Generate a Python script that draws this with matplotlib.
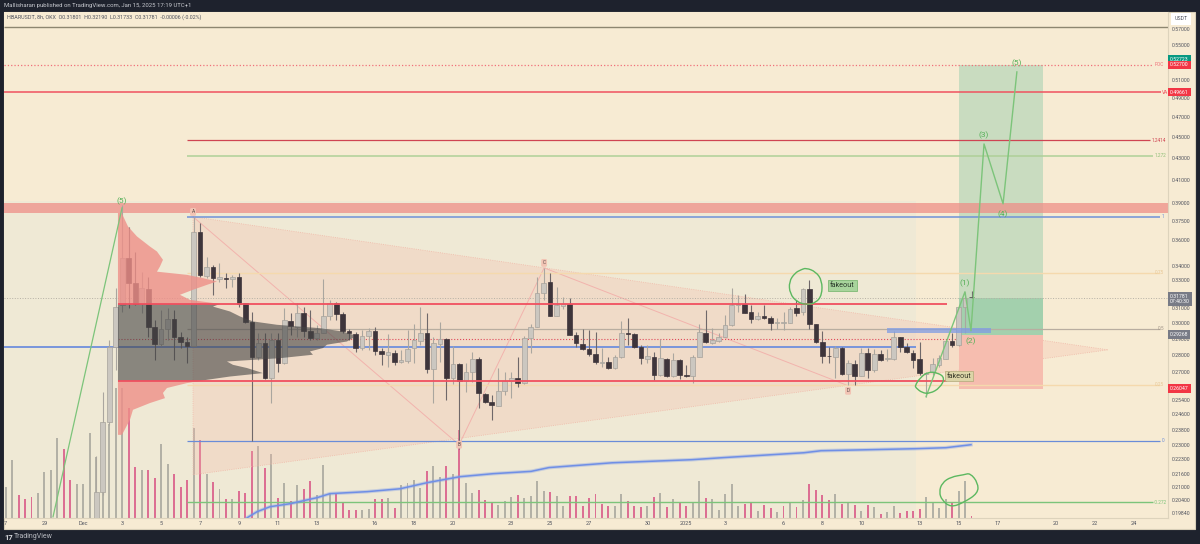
import matplotlib
matplotlib.use("Agg")
import matplotlib.pyplot as plt
from matplotlib.patches import PathPatch, Rectangle
from matplotlib.path import Path
from matplotlib.ticker import FixedLocator, NullLocator
import numpy as np

# days are counted from Dec 1, price is on a log scale
opens = [.19, .2079, .2421, .2851, .3124, .3461, .3278, .3130, .3235, .2978, .2870, .2965, .3031, .2914, .2882, .2857, .3663, .3328, .3393, .3306,
         .3314, .3306, .3321, .3137, .3011, .2789, .2876, .2664, .2895, .2753, .3017, .2978, .3070, .2952, .2908, .2939, .3050, .3137, .3063, .2952,
         .2933, .2845, .2920, .2952, .2826, .2802, .2814, .2759, .2765, .2845, .2889, .2939, .2718, .2870, .2901, .2664, .2747, .2647, .2700, .2777,
         .2574, .2529, .2507, .2591, .2647, .2664, .2636, .2908, .2978, .3207, .3285, .3050, .3117, .3130, .2927, .2870, .2838, .2808, .2753, .2759,
         .2724, .2789, .2939, .2933, .2851, .2777, .2789, .2682, .2777, .2676, .2771, .2682, .2676, .2789, .2939, .2876, .2889, .2914, .2991, .3124,
         .3130, .3077, .3031, .3050, .3037, .3004, .3004, .3004, .3103, .3077, .3235, .2998, .2882, .2797, .2789, .2845, .2688, .2747, .2676, .2814,
         .2712, .2808, .2777, .2777, .2914, .2851, .2814, .2777, .2688, .2700, .2741, .2777, .2889, .2864, .3110, .31801]
highs = [.2249, .2585, .2895, .3242, .388, .3703, .3507, .3357, .3321, .3024, .3090, .3103, .3090, .2945, .2914, .3785, .3736, .3469, .3408, .3423,
         .3349, .3335, .3349, .3137, .3077, .2939, .2939, .2939, .2939, .3103, .3070, .3137, .3110, .3090, .2991, .3306, .3158, .3144, .3077, .2965,
         .2945, .2958, .2971, .2978, .2845, .2933, .2832, .2832, .2958, .2998, .3110, .3070, .2914, .3011, .2908, .2857, .2753, .2753, .2820, .2789,
         .2579, .2568, .2724, .2700, .2700, .2789, .2920, .2998, .3321, .3386, .3349, .3249, .3179, .3172, .2945, .2965, .2958, .2945, .2845, .2789,
         .2802, .3017, .3037, .2939, .2864, .2864, .2820, .2901, .2783, .2814, .2777, .2741, .2802, .2998, .3090, .2971, .2939, .3057, .3242, .3193,
         .3200, .3124, .3077, .3124, .3050, .3037, .3077, .3110, .3158, .3242, .3299, .2998, .2952, .2851, .2857, .2851, .2771, .2771, .2845, .2845,
         .2838, .2832, .2838, .2952, .2914, .2876, .2832, .2882, .2700, .2783, .2802, .2895, .2939, .3124, .3214, .3219]
lows = [.188, .2065, .2405, .2712, .3077, .3103, .3124, .3070, .2914, .2771, .2857, .2895, .2771, .2845, .2753, .2857, .3321, .3314, .3193, .3285,
        .3242, .3249, .3110, .3004, .2323, .2771, .2658, .2524, .2700, .2747, .2927, .2914, .2914, .2895, .2895, .2939, .3024, .3024, .2939, .2895,
        .2820, .2832, .2832, .2802, .2741, .2730, .2741, .2753, .2753, .2753, .2864, .2694, .2524, .2759, .2540, .2630, .2283, .2585, .2641, .2496,
        .2524, .2432, .2507, .2568, .2551, .2613, .2630, .2814, .2978, .3158, .3050, .3050, .3097, .2927, .2851, .2832, .2795, .2747, .2730, .2718,
        .2718, .2783, .2864, .2845, .2747, .2753, .2653, .2676, .2670, .2670, .2658, .2670, .2636, .2789, .2876, .2870, .2882, .2914, .2985, .3077,
        .3070, .3004, .3024, .3031, .2958, .2965, .2958, .3004, .3050, .3057, .2965, .2876, .2753, .2753, .2664, .2682, .2624, .2624, .2676, .2664,
        .2700, .2765, .2765, .2771, .2820, .2814, .2724, .2682, .2557, .2682, .2730, .2777, .2851, .2857, .2939, .31733]
closes = [.2079, .2421, .2851, .3110, .3461, .3278, .3130, .3242, .2978, .2870, .2965, .3031, .2914, .2882, .2857, .3663, .3335, .3393, .3314, .3321,
          .3306, .3321, .3130, .3011, .2789, .2876, .2664, .2895, .2753, .3024, .2985, .3070, .2952, .2908, .2939, .3050, .3137, .3063, .2952, .2939,
          .2845, .2920, .2952, .2826, .2808, .2820, .2759, .2771, .2838, .2895, .2939, .2718, .2876, .2901, .2664, .2747, .2647, .2700, .2777, .2579,
          .2529, .2513, .2591, .2647, .2664, .2636, .2908, .2978, .3207, .3278, .3050, .3124, .3130, .2927, .2876, .2838, .2808, .2759, .2759, .2724,
          .2789, .2939, .2933, .2851, .2783, .2795, .2682, .2783, .2676, .2771, .2682, .2676, .2789, .2945, .2882, .2895, .2914, .2991, .3124, .3130,
          .3070, .3031, .3050, .3037, .3004, .3011, .3011, .3097, .3070, .3235, .2998, .2882, .2795, .2795, .2845, .2688, .2753, .2676, .2814, .2712,
          .2808, .2771, .2783, .2914, .2851, .2820, .2771, .2694, .2694, .2747, .2783, .2889, .2864, .3110, .3172, .31781]

volumes = [31, 58, 23, 19, 21, 25, 46, 48, 80, 69, 38, 34, 34, 85, 61, 70, 94, 130, 130, 110,
           51, 48, 48, 40, 74, 54, 44, 31, 38, 90, 78, 44, 36, 29, 19, 19, 27, 25, 67, 72,
           50, 64, 20, 35, 17, 33, 29, 37, 23, 53, 24, 24, 15, 8, 8, 8, 9, 19, 19, 20,
           10, 33, 35, 38, 30, 47, 52, 41, 52, 44, 88, 35, 25, 28, 18, 16, 13,
           17, 21, 23, 20, 22, 37, 27, 26, 22, 12, 22, 22, 12, 20, 24, 14, 12, 12, 24, 17,
           12, 11, 12, 21, 25, 11, 19, 15, 12, 15, 37, 20, 19, 8, 24, 34, 12, 14, 15, 7,
           13, 10, 6, 12, 16, 11, 18, 34, 28, 23, 18, 24, 14, 15, 13, 7, 13, 11, 4, 6,
           12, 5, 7, 7, 9, 21, 15, 10, 19, 15, 27, 37, 2]
# g = up volume, p = down volume
vol_sides = ("ggpppggggpp" "gggggggg" "pp" "g" "pp" "gg" "ppp" "g" "p" "g" "p" "g" "p" "g" "ppp" "g" "p" "g" "p" "g" "p" "g"
             "pp" "ggg" "pppp" "gg" "pp" "g" "p" "gggg" "p" "gg" "p" "g" "p" "gg" "ppp" "g"
             "gg" "p" "gggg" "p" "gg" "ppppppp" "gg" "ppp" "g" "p" "g" "p" "g" "pp" "gg" "p" "ggggg" "pp" "g" "pp" "g" "p" "g" "p"
             "g" "pppp" "g" "p" "g" "p" "g" "p" "g" "p" "gg" "pppp" "gggg" "p" "gg" "p")

ma_days = [8.42, 8.93, 9.6, 10.63, 12.02, 12.68, 14.59, 16.28, 17.67, 19.37, 21.06, 23.02, 23.94, 27.18, 31.29, 32.89, 37.05, 37.93, 42.76, 44.35, 45.64]
ma_prices = [.1964, .1990, .2012, .2025, .2052, .2070, .2079, .2092, .2120, .2148, .2162, .2173, .2191, .2214, .2229, .2239, .2263, .2273, .2283, .2288, .2303]

profile_prices = np.array([.3816, .3706, .3626, .3547, .3509, .3446, .3396, .3358, .3335, .3311, .3287, .3263, .3228, .3193, .3158, .3130,
                           .3112, .3079, .3046, .3013, .2991, .2969, .2947, .2927, .2906, .2884, .2864, .2843, .2822, .2802, .2781, .2761,
                           .2741, .2722, .2692, .2672, .2653, .2644, .2634, .2606, .2578, .2549, .2522, .2485, .2432, .2353])
profile_vol = np.array([3.7, 10, 19, 32, 39, 45, 42, 39, 69, 85, 99, 89, 75, 62, 72, 102,
                        95, 112, 122, 135, 159, 202, 225, 235, 235, 229, 209, 205, 192, 195, 162, 109,
                        115, 129, 145, 112, 89, 80, 69, 49, 45, 47, 32, 15, 12, 4])

wave_days = [43.33, 45.33, 45.64, 46.31, 47.29, 48.0]
wave_prices = [.2557, .3214, .2952, .4436, .3893, .5190]
wave_names = ["(1)", "(2)", "(3)", "(4)", "(5)"]
wave_name_days = [45.33, 45.64, 46.31, 47.29, 48.0]
wave_name_prices = [.3278, .2889, .4525, .3810, .5293]

triangle_days = [5.64, 52.69, 5.64]
triangle_prices = [.3785, .2832, .2157]
abcd_days = [5.64, 19.32, 23.69, 39.32]
abcd_prices = [.3785, .2303, .3386, .2619]
abcd_names = ["A", "B", "C", "D"]
abcd_name_prices = [.3825, .2303, .3423, .2590]

# freehand circles
circle1_days = [36.9, 36.59, 36.28, 36.33, 36.69, 37.16, 37.67, 37.98, 37.98, 37.67, 37.16]
circle1_prices = [.3372, .3349, .3285, .3200, .3144, .3124, .3137, .3193, .3292, .3357, .3386]
circle2_days = [45.6, 46.0, 46.0, 45.28, 44.61, 44.15, 44.0, 44.15, 44.61, 45.28]
circle2_prices = [.2165, .2119, .2072, .2031, .2009, .2040, .2077, .2119, .2147, .2157]
circle3_days = [42.76, 43.02, 43.43, 43.94, 44.3, 44.05, 43.53, 43.12, 42.81]
circle3_prices = [.2619, .2664, .2700, .2694, .2664, .2607, .2574, .2579, .2607]

tick_days = [-4, -2, 0, 2, 4, 6, 8, 10, 12, 15, 17, 19, 22, 24, 26, 29, 31, 33, 36, 38, 40, 43, 45, 47, 50, 52, 54]
tick_names = ["7", "29", "Dec", "3", "5", "7", "9", "11", "13", "16", "18", "20", "23", "25", "27", "30", "2025", "3", "6", "8", "10", "13", "15", "17", "20", "22", "24"]
price_ticks = [.57, .55, .51, .49, .47, .45, .43, .41, .39, .375, .36, .34, .33, .31, .30, .29, .28, .27, .254, .246, .238, .23, .223, .216, .21, .204, .1984]

W, H = 1200, 544
BG = "#f7ebd3"
DARK = "#1e222d"
GREEN = "#7cc47a"
plt.rcParams["font.family"] = ["Roboto", "DejaVu Sans"]


def freehand(ax, xs, ys):
    # closed quadratic curve through the midpoints of a hand drawn outline
    pts = np.column_stack([xs, ys])
    mids = (pts + np.roll(pts, -1, axis=0)) / 2
    verts = [mids[-1]]
    codes = [Path.MOVETO]
    for i in range(len(pts)):
        verts += [pts[i], mids[i]]
        codes += [Path.CURVE3, Path.CURVE3]
    ax.add_patch(PathPatch(Path(verts, codes), fc="none", ec="#5cb860", lw=1, zorder=5))


fig = plt.figure(figsize=(W / 100, H / 100), dpi=100, facecolor=DARK)
# chart frame, with the price and time strips
fig.patches.append(Rectangle((4 / W, 1 - 529 / H), 1191 / W, 517 / H, transform=fig.transFigure, fc=BG, ec="#d8cfb8", lw=0.8, zorder=-1))
pos = [4 / W, 1 - 518 / H, 1164 / W, 506 / H]
xlim = (-4.08, 55.77)

ax_v = fig.add_axes(pos, zorder=0)
ax_v.set_facecolor(BG)
ax_v.set_xlim(xlim)
ax_v.set_ylim(0, 506)
ax_v.set_xticks([])
ax_v.set_yticks([])
for s in ax_v.spines.values():
    s.set_visible(False)

ax = fig.add_axes(pos, zorder=1)
ax.patch.set_visible(False)
ax.set_yscale("log")
ax.set_xlim(xlim)
ax.set_ylim(.1963, .5914)
for s in ax.spines.values():
    s.set_visible(False)
ax.spines["bottom"].set_visible(True)
ax.spines["bottom"].set_color("#ddd3bc")
ax.spines["right"].set_visible(True)
ax.spines["right"].set_color("#ddd3bc")

# tinted session area sits under the volume
ax_v.add_patch(Rectangle((xlim[0], 0), 42.81 - xlim[0], 506 - 189, fc="#efe9d5", ec="none", zorder=0))

n = len(volumes)
vol_x = 45.667 - (n - 1 - np.arange(n)) / 3
vol_c = ["#b3b1a6" if s == "g" else "#dc6f93" for s in vol_sides[:n]]
ax_v.bar(vol_x, volumes, width=0.1, color=vol_c, zorder=2)

# triangle and abcd
ax.fill(triangle_days, triangle_prices, fc="#f4b9a8", alpha=0.28, ec="none", zorder=1)
ax.plot(triangle_days + triangle_days[:1], triangle_prices + triangle_prices[:1], ls=":", lw=0.6, color="#f0b8a8", zorder=1)
ax.plot(abcd_days, abcd_prices, lw=0.7, color="#f2b3ad", zorder=1.5)
for d, p, t in zip(abcd_days, abcd_name_prices, abcd_names):
    ax.text(d, p, t, fontsize=3.4, color="#5a4a48", ha="center", va="center", zorder=6,
            bbox=dict(boxstyle="round,pad=0.3", fc="#f2c4b4", ec="none"))

# long position
ax.add_patch(Rectangle((45, .2927), 4.34, .5270 - .2927, fc="#c9dcc0", ec="none", zorder=1.2))
ax.add_patch(Rectangle((45, .2927), 4.34, .3174 - .2927, fc="#a3d0ad", ec="none", zorder=1.3))
ax.add_patch(Rectangle((45, .2602), 4.34, .2927 - .2602, fc="#f6bdaf", ec="none", zorder=1.2))

# resistance band
ax.add_patch(Rectangle((xlim[0], .3816), xlim[1] - xlim[0], .39 - .3816, fc="#ee8f88", alpha=0.75, ec="none", zorder=1.6))

# fib and horizontal levels
ax.hlines(.3785, 5.33, 55.36, color="#7092d8", lw=1.1, zorder=2)
ax.hlines(.2323, 5.33, 55.36, color="#6a8cd8", lw=0.9, zorder=2)
ax.hlines(.4470, 5.33, 54.85, color="#cf4452", lw=0.9, zorder=2)
ax.hlines(.4322, 5.33, 55.0, color="#aed098", lw=1.1, zorder=2)
ax.hlines(.3349, 5.33, 55.36, color="#f5d9ad", lw=1.0, zorder=2)
ax.hlines(.2965, 5.33, 55.36, color="#b8ada0", lw=0.9, zorder=2)
ax.hlines(.2624, 5.33, 55.36, color="#f5d9ad", lw=1.0, zorder=2)
ax.hlines(.2032, 5.33, 55.0, color=GREEN, lw=1.0, zorder=2)
ax.hlines(.3174, xlim[0], xlim[1], color="#b5b0a5", lw=0.7, ls=":", zorder=2)
ax.hlines(.5270, xlim[0], 55.0, color="#f0707a", lw=0.9, ls=":", zorder=2)
ax.hlines(.4966, xlim[0], 55.4, color="#f0525f", lw=1.1, zorder=2)
ax.hlines(.5730, xlim[0], xlim[1], color="#8d8670", lw=1.0, zorder=2)
ax.hlines(.2851, xlim[0], 42.81, color="#6f8fdc", lw=1.3, zorder=2)
ax.hlines(.2900, 1.78, 45, color="#e0485a", lw=0.8, ls=":", zorder=2)
for level_p, level_t, level_d, c in [(.5270, "POC", 55.1, "#f0707a"), (.4966, "VA", 55.45, "#f0525f"), (.4470, "1.2414", 54.95, "#cf4452"),
                                     (.4322, "1.272", 55.1, "#8fbf78"), (.3785, "1", 55.45, "#7092d8"), (.3349, "0.75", 55.1, "#e8c896"),
                                     (.2965, "0.5", 55.25, "#a09488"), (.2624, "0.25", 55.1, "#e8c896"), (.2323, "0", 55.45, "#6a8cd8"),
                                     (.2032, "-0.272", 55.05, GREEN)]:
    ax.text(level_d, level_p, level_t, fontsize=3.4, color=c, va="center", zorder=5)

# candles
x = 0.667 + np.arange(len(opens)) / 3
o, h, l, c = np.array(opens), np.array(highs), np.array(lows), np.array(closes)
up = c >= o
ax.vlines(x, l, h, color=np.where(up, "#aaa69f", "#6f686a"), lw=0.8, zorder=3)
ax.bar(x[up], c[up] - o[up], bottom=o[up], width=0.24, color="#cbc7c0", edgecolor="#a6a29b", lw=0.5, zorder=3.2)
ax.bar(x[~up], o[~up] - c[~up], bottom=c[~up], width=0.24, color="#3e353b", edgecolor="#3e353b", lw=0.5, zorder=3.2)

# volume profile over the candles
prof_x = 1.78 + profile_vol / 19.45
in_va = (profile_prices <= .3130) & (profile_prices >= .2644)
ax.fill_betweenx(profile_prices, 1.78, prof_x, where=profile_prices >= .3130, fc="#ee8f88", alpha=0.8, ec="none", zorder=3.5)
ax.fill_betweenx(profile_prices, 1.78, prof_x, where=in_va, fc="#454545", alpha=0.6, ec="none", zorder=3.5)
ax.fill_betweenx(profile_prices, 1.78, prof_x, where=profile_prices <= .2644, fc="#ee8f88", alpha=0.8, ec="none", zorder=3.5)

# value area edges
ax.hlines([.3130, .2644], 1.78, 44.4, color="#f0505f", lw=1.3, zorder=4)

ax.add_patch(Rectangle((41.32, .2939), 5.35, .2971 - .2939, fc="#7f9ce4", alpha=0.75, ec="none", zorder=4))

# moving average with a soft halo
ax.plot(ma_days, ma_prices, color="#7c9ae8", lw=2.6, alpha=0.35, zorder=4)
ax.plot(ma_days, ma_prices, color="#6f8fe6", lw=1.1, zorder=4.1)

# elliott wave drawing
WAVE_TEXT = "#55b058"
ax.plot([-1.56, 1.99], [.1968, .3859], color=GREEN, lw=0.9, zorder=5)
ax.text(1.99, .3919, "(5)", fontsize=6, color=WAVE_TEXT, ha="center", va="center", zorder=6)
ax.plot(wave_days, wave_prices, color=GREEN, lw=1.0, zorder=5)
for d, p, t in zip(wave_name_days, wave_name_prices, wave_names):
    ax.text(d, p, t, fontsize=6, color=WAVE_TEXT, ha="center", va="center", zorder=6)
freehand(ax, circle1_days, circle1_prices)
freehand(ax, circle2_days, circle2_prices)
freehand(ax, circle3_days, circle3_prices)

ax.text(38.4, .3260, "fakeout", fontsize=5.2, color="#2b3a2b", va="center", zorder=6,
        bbox=dict(boxstyle="square,pad=0.25", fc="#a8d49c", ec="#6fb267", lw=0.5))
ax.text(44.4, .2675, "fakeout", fontsize=5.2, color="#3a3a2b", va="center", zorder=6,
        bbox=dict(boxstyle="square,pad=0.25", fc="#dcd5a8", ec="#b0a878", lw=0.5))

# axes ticks
ax.set_xticks(tick_days)
ax.set_xticklabels(tick_names, fontsize=4)
ax.tick_params(axis="x", length=0, pad=2.5, colors="#50535e")
ax.yaxis.tick_right()
ax.yaxis.set_major_locator(FixedLocator(price_ticks))
ax.yaxis.set_minor_locator(NullLocator())
ax.set_yticklabels(["%.5f" % p for p in price_ticks], fontsize=3.7)
ax.tick_params(axis="y", which="both", length=0, pad=2.5, colors="#50535e")

# coloured price tags on the right
for p, t, fc in [(.5333, "0.52723", "#089981"), (.5270, "0.52700", "#f23645"), (.49661, "0.49661", "#f23645"),
                 (.29268, "0.29268", "#787b86"), (.26047, "0.26047", "#f23645")]:
    ax.text(1.0018, p, t, transform=ax.get_yaxis_transform(), fontsize=3.7, color="white", va="center", clip_on=False, zorder=7,
            bbox=dict(boxstyle="square,pad=0.35", fc=fc, ec="none"))
ax.text(1.0018, .3165, "0.31781\n07:40:30", transform=ax.get_yaxis_transform(), fontsize=3.7, color="white", va="center", clip_on=False, zorder=7,
        linespacing=1.15, bbox=dict(boxstyle="square,pad=0.35", fc="#787b86", ec="none"))

fig.text(1181 / W, 1 - 19 / H, "USDT", fontsize=3.8, color="#50535e", ha="center", va="center",
         bbox=dict(boxstyle="square,pad=0.7", fc="white", ec="none"))
fig.text(4 / W, 1 - 6 / H, "Mallisharan published on TradingView.com, Jan 15, 2025 17:19 UTC+1", fontsize=4.3, color="#c8cad0", va="center")
fig.text(7 / W, 1 - 17 / H, "HBARUSDT, 8h, OKX  O0.31801  H0.32190  L0.31733  C0.31781  -0.00006 (-0.02%)", fontsize=3.9, color="#50535e", va="center")
fig.text(4 / W, 1 - 537 / H, "17", fontsize=5.5, fontweight="bold", color="#d8d9dd", va="center")
fig.text(14 / W, 1 - 537 / H, "TradingView", fontsize=5, color="#b8bac0", va="center")

fig.savefig("out.png", dpi=100, facecolor=DARK)
